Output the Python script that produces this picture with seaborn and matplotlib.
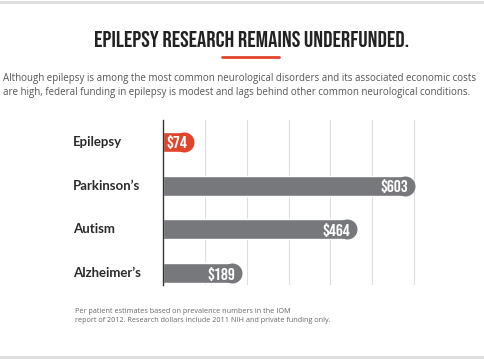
import matplotlib
matplotlib.use("Agg")
import matplotlib.pyplot as plt
import seaborn as sns
import pandas as pd
from matplotlib.lines import Line2D

# chart data
conditions = ["Epilepsy", "Parkinson\u2019s", "Autism", "Alzheimer\u2019s"]
funding = [74, 603, 464, 189]
value_labels = ["$74", "$603", "$464", "$189"]
bar_colors = ["#e0452b", "#77787b", "#77787b", "#77787b"]

title = "EPILEPSY RESEARCH REMAINS UNDERFUNDED."
subtitle = ("Although epilepsy is among the most common neurological disorders and its associated economic costs\n"
            "are high, federal funding in epilepsy is modest and lags behind other common neurological conditions.")
footnote = ("Per patient estimates based on prevalence numbers in the IOM\n"
            "report of 2012. Research dollars include 2011 NIH and private funding only.")

df = pd.DataFrame({"condition": conditions, "funding": funding})

sns.set_style("white")
cond_font = ["Bebas Neue", "DejaVu Sans"]
body_font = ["Open Sans", "DejaVu Sans"]

W, H = 485, 360
fig = plt.figure(figsize=(W / 100, H / 100), dpi=100)
ax = fig.add_axes([163 / W, 75 / H, 293 / W, 165 / H])

xmax = 700
px_per_unit = 293 / xmax
bar_h_px = 20
r_units = (bar_h_px / 2) / px_per_unit

# bars shortened by the cap radius, round cap added with markers
df["body"] = df["funding"] - r_units
sns.barplot(data=df, x="body", y="condition", hue="condition", palette=bar_colors,
            width=0.46, legend=False, ax=ax, saturation=1, zorder=3)
cap_pt = bar_h_px * 72 / 100
for i, (v, c) in enumerate(zip(df["body"], bar_colors)):
    ax.plot([v], [i], marker="o", ms=cap_pt, color=c, mec="none", zorder=3,
            clip_on=False)

ax.set_xlim(0, xmax)
ax.set_ylim(3.27, -0.5)
ax.set_xticks([100, 200, 300, 400, 500, 600])
ax.xaxis.grid(True, color="#dedede", lw=0.8, zorder=0)
ax.set_yticks([])
ax.set_xticklabels([])
ax.tick_params(length=0)
ax.set_xlabel("")
ax.set_ylabel("")
for s in ["top", "right", "bottom"]:
    ax.spines[s].set_visible(False)
ax.spines["left"].set_color("#333333")
ax.spines["left"].set_linewidth(1)
ax.spines["left"].set_zorder(5)

# category labels on the far left
for i, name in enumerate(conditions):
    ax.annotate(name, xy=(0, i), xycoords=("axes fraction", "data"),
                xytext=(-90, 0), textcoords="offset pixels",
                ha="left", va="center", fontsize=9.5, fontweight="bold",
                family=["Lato", "DejaVu Sans"], color="#2b2b2b")

# value labels inside bar ends
for i, (v, lab) in enumerate(zip(funding, value_labels)):
    ax.annotate(lab, xy=(v, i), xytext=(-7, -0.5), textcoords="offset pixels",
                ha="right", va="center", fontsize=12.5,
                family=cond_font, color="white", zorder=6)

# header
fig.text(252 / W, 1 - 39 / H, title, ha="center", va="center", fontsize=16.6,
         family=cond_font, color="#222222")
fig.add_artist(Line2D([222 / W, 279 / W], [1 - 57 / H, 1 - 57 / H],
                      color="#e0452b", lw=2))
fig.text(3 / W, 1 - 85.5 / H, subtitle, ha="left", va="center", fontsize=7.0,
         family=body_font, color="#555555", linespacing=1.3)
fig.text(75 / W, 1 - 316 / H, footnote, ha="left", va="center", fontsize=5.2,
         family=body_font, color="#666666", linespacing=1.4)

# frame lines top and bottom
fig.add_artist(Line2D([0, 1], [1 - 2 / H, 1 - 2 / H], color="#dddddd", lw=2))
fig.add_artist(Line2D([0, 1], [1 - 357 / H, 1 - 357 / H], color="#dddddd", lw=2))

fig.savefig("out.png", dpi=100, facecolor="white")
